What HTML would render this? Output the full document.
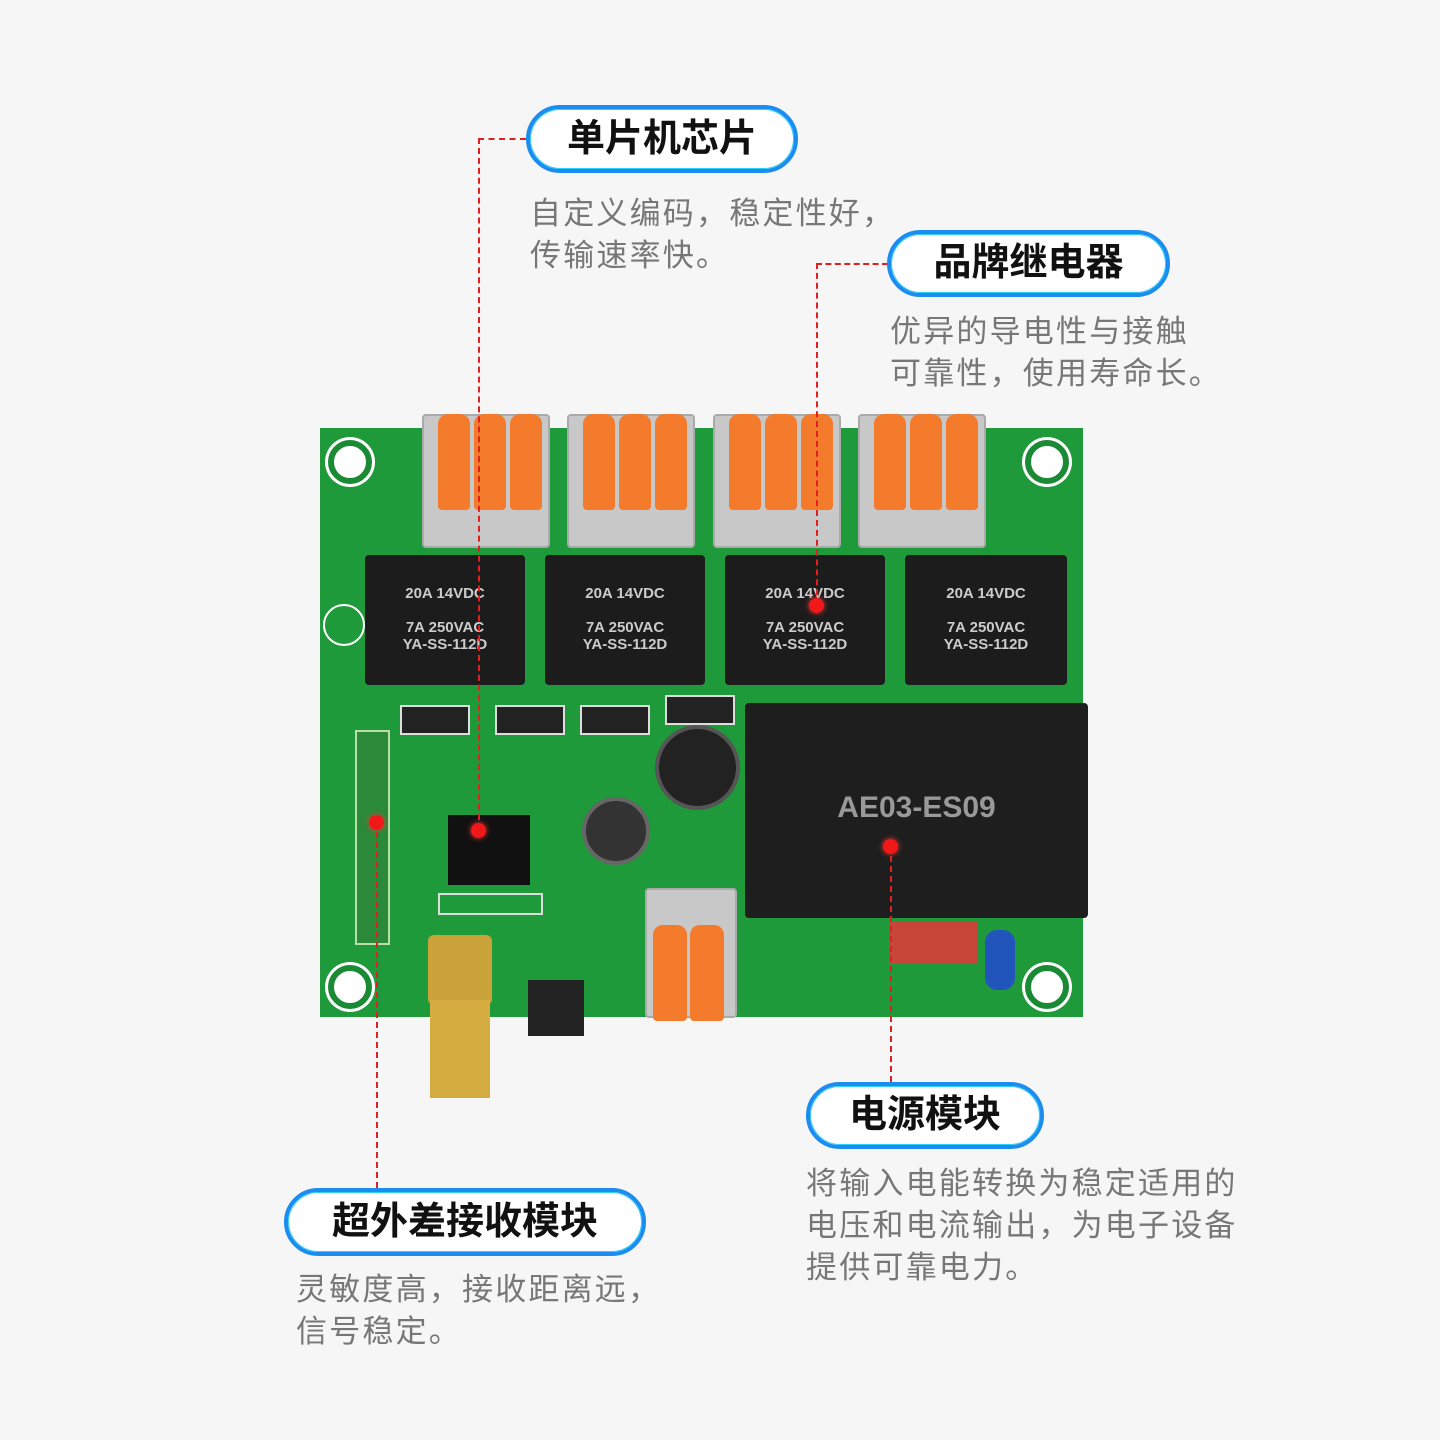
<!DOCTYPE html>
<html><head><meta charset="utf-8"><style>
body{margin:0;width:1440px;height:1440px;background:#f6f6f6;position:relative;overflow:hidden;font-family:"Liberation Sans","Noto Sans CJK SC",sans-serif}
div{position:absolute;box-sizing:border-box}
.pill{border:4px solid #1b8df0;border-radius:40px;background:#fff;font-weight:bold;font-size:38px;color:#111;text-align:center;box-shadow:0 0 0 1px #2fd0f5 inset}
.desc{font-size:31px;color:#777;line-height:42px;letter-spacing:2.2px}
.dl{border-color:#e02020;border-style:dashed;border-width:0}
.hole{width:44px;height:44px;border-radius:50%;background:#fff;border:6px solid #1a8a34;box-shadow:0 0 0 3px #fff}
.tb{background:#c8c8c8;border:2px solid #aaa;border-radius:4px}
.or{background:#f47a2c;border-radius:10px 10px 4px 4px}
.relay{background:#1c1c1c;border-radius:4px;color:#ccc;font-size:15px;font-weight:bold;text-align:center}
.sm{background:#222;border:2px solid #ddd}
</style></head><body>
<div style="left:320px;top:428px;width:763px;height:589px;background:#1f9a3b;"></div>
<div class="hole" style="left:328px;top:440px"></div>
<div class="hole" style="left:1025px;top:440px"></div>
<div class="hole" style="left:328px;top:965px"></div>
<div class="hole" style="left:1025px;top:965px"></div>
<div class="tb" style="left:422px;top:414px;width:128px;height:134px"></div>
<div class="tb" style="left:567px;top:414px;width:128px;height:134px"></div>
<div class="tb" style="left:713px;top:414px;width:128px;height:134px"></div>
<div class="tb" style="left:858px;top:414px;width:128px;height:134px"></div>
<div class="or" style="left:438px;top:414px;width:32px;height:96px"></div><div class="or" style="left:474px;top:414px;width:32px;height:96px"></div><div class="or" style="left:510px;top:414px;width:32px;height:96px"></div>
<div class="or" style="left:583px;top:414px;width:32px;height:96px"></div><div class="or" style="left:619px;top:414px;width:32px;height:96px"></div><div class="or" style="left:655px;top:414px;width:32px;height:96px"></div>
<div class="or" style="left:729px;top:414px;width:32px;height:96px"></div><div class="or" style="left:765px;top:414px;width:32px;height:96px"></div><div class="or" style="left:801px;top:414px;width:32px;height:96px"></div>
<div class="or" style="left:874px;top:414px;width:32px;height:96px"></div><div class="or" style="left:910px;top:414px;width:32px;height:96px"></div><div class="or" style="left:946px;top:414px;width:32px;height:96px"></div>
<div class="relay" style="left:365px;top:555px;width:160px;height:130px;padding-top:30px">20A 14VDC<br><br>7A 250VAC<br>YA-SS-112D</div>
<div class="relay" style="left:545px;top:555px;width:160px;height:130px;padding-top:30px">20A 14VDC<br><br>7A 250VAC<br>YA-SS-112D</div>
<div class="relay" style="left:725px;top:555px;width:160px;height:130px;padding-top:30px">20A 14VDC<br><br>7A 250VAC<br>YA-SS-112D</div>
<div class="relay" style="left:905px;top:555px;width:162px;height:130px;padding-top:30px">20A 14VDC<br><br>7A 250VAC<br>YA-SS-112D</div>
<div style="left:745px;top:703px;width:343px;height:215px;background:#1e1e1e;border-radius:4px;color:#999;font-size:30px;font-weight:bold;text-align:center;padding-top:88px">AE03-ES09</div>
<div class="sm" style="left:400px;top:705px;width:70px;height:30px"></div>
<div class="sm" style="left:495px;top:705px;width:70px;height:30px"></div>
<div class="sm" style="left:580px;top:705px;width:70px;height:30px"></div>
<div class="sm" style="left:665px;top:695px;width:70px;height:30px"></div>
<div style="left:448px;top:815px;width:82px;height:70px;background:#111"></div>
<div style="left:655px;top:725px;width:85px;height:85px;border-radius:50%;background:#222;border:4px solid #555"></div>
<div style="left:582px;top:797px;width:68px;height:68px;border-radius:50%;background:#333;border:4px solid #666"></div>
<div style="left:355px;top:730px;width:35px;height:215px;background:#2a8a3a;border:2px solid #bda;"></div>
<div style="left:438px;top:893px;width:105px;height:22px;border:2px solid #ddd"></div>
<div style="left:428px;top:935px;width:64px;height:70px;background:#c9a23a;border-radius:6px"></div>
<div style="left:430px;top:1000px;width:60px;height:98px;background:#d4ac40"></div>
<div class="tb" style="left:645px;top:888px;width:92px;height:130px"></div>
<div class="or" style="left:653px;top:925px;width:34px;height:96px"></div><div class="or" style="left:690px;top:925px;width:34px;height:96px"></div>
<div style="left:528px;top:980px;width:56px;height:56px;background:#222"></div>
<div style="left:890px;top:922px;width:88px;height:42px;background:#c8453a"></div>
<div style="left:985px;top:930px;width:30px;height:60px;background:#2255bb;border-radius:12px"></div>
<div style="left:323px;top:604px;width:42px;height:42px;border-radius:50%;border:2px solid #fff"></div>
<div class="dl" style="left:478px;top:138px;width:48px;height:692px;border-top-width:2px;border-left-width:2px"></div>
<div class="dl" style="left:816px;top:263px;width:72px;height:342px;border-top-width:2px;border-left-width:2px"></div>
<div class="dl" style="left:890px;top:846px;width:2px;height:236px;border-left-width:2px"></div>
<div class="dl" style="left:376px;top:822px;width:2px;height:366px;border-left-width:2px"></div>
<div style="left:471px;top:823px;width:15px;height:15px;border-radius:50%;background:#f01818;box-shadow:0 0 6px #f33"></div>
<div style="left:809px;top:598px;width:15px;height:15px;border-radius:50%;background:#f01818;box-shadow:0 0 6px #f33"></div>
<div style="left:883px;top:839px;width:15px;height:15px;border-radius:50%;background:#f01818;box-shadow:0 0 6px #f33"></div>
<div style="left:369px;top:815px;width:15px;height:15px;border-radius:50%;background:#f01818;box-shadow:0 0 6px #f33"></div>
<div class="pill" style="left:526px;top:105px;width:272px;height:68px;line-height:60px">单片机芯片</div>
<div class="desc" style="left:530px;top:193px">自定义编码，稳定性好，<br>传输速率快。</div>
<div class="pill" style="left:887px;top:230px;width:283px;height:67px;line-height:59px">品牌继电器</div>
<div class="desc" style="left:890px;top:311px">优异的导电性与接触<br>可靠性，使用寿命长。</div>
<div class="pill" style="left:806px;top:1082px;width:238px;height:67px;line-height:59px">电源模块</div>
<div class="desc" style="left:806px;top:1163px">将输入电能转换为稳定适用的<br>电压和电流输出，为电子设备<br>提供可靠电力。</div>
<div class="pill" style="left:284px;top:1188px;width:362px;height:68px;line-height:60px">超外差接收模块</div>
<div class="desc" style="left:296px;top:1269px">灵敏度高，接收距离远，<br>信号稳定。</div>
</body></html>
